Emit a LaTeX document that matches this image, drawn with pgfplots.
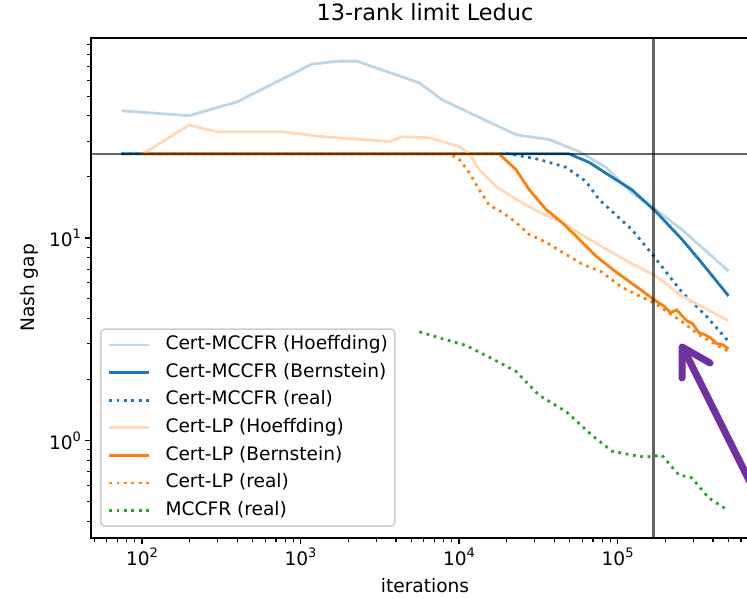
\documentclass[border=0pt]{standalone}
\usepackage{fontspec}
\setmainfont{DejaVu Sans}
\usepackage{pgfplots}
\pgfplotsset{compat=1.18}
\definecolor{tabblue}{RGB}{31,119,180}
\definecolor{taborange}{RGB}{255,127,14}
\definecolor{tabgreen}{RGB}{44,160,44}
\definecolor{lightblue}{RGB}{188,214,232}
\definecolor{lightorange}{RGB}{255,217,183}
\definecolor{arrowpurple}{RGB}{112,48,160}
\newcommand\supx[1]{\raisebox{0.42em}{\fontsize{13}{14}\selectfont #1}}
\begin{document}
\begin{tikzpicture}
\useasboundingbox (0,0) rectangle (747pt,599pt);
\begin{axis}[
  at={(91pt,61pt)}, anchor=south west,
  width=668pt, height=500pt, scale only axis,
  xmode=log, ymode=log, log basis x=10, log basis y=10,
  xmin=47.7, xmax=780000, ymin=0.33, ymax=97,
  axis line style={line width=1.5pt, black},
  tick align=outside, tick pos=left,
  major tick length=6.5pt, minor tick length=3.7pt,
  major tick style={line width=1.5pt, black},
  minor tick style={line width=1.1pt, black},
  xticklabel={10\supx{\pgfmathparse{int(round(\tick))}\pgfmathresult}},
  yticklabel={10\supx{\pgfmathparse{int(round(\tick))}\pgfmathresult}},
  ticklabel style={font=\fontsize{18.6}{20}\selectfont},
  title={13-rank limit Leduc},
  title style={at={(axis description cs:0.5,1)}, anchor=base, yshift=11pt, font=\fontsize{22.4}{26}\selectfont},
  xlabel={iterations},
  xlabel style={at={(axis description cs:0.5,0)}, anchor=base, yshift=-54pt, font=\fontsize{18.6}{20}\selectfont},
  ylabel={Nash gap},
  ylabel style={at={([xshift=-57pt]axis description cs:0,0.5)}, anchor=base, rotate=0, font=\fontsize{18.6}{20}\selectfont},
  legend cell align=left,
  legend image code/.code={\draw[#1] (0pt,0pt) -- (40pt,0pt);},
  legend style={at={(axis description cs:0.0135,0.022)}, anchor=south west,
    draw=black!20, line width=1.5pt, rounded corners=4pt, fill=white, fill opacity=0.8, text opacity=1,
    font=\fontsize{18.6}{20}\selectfont,
    inner xsep=7pt, inner ysep=6.9pt, row sep=10pt, column sep=15pt,
    nodes={inner sep=0pt, text height=13.6pt, text depth=4pt}},
  dotline/.style={dash pattern=on 2.8pt off 4.6pt, line cap=butt},
]
\addplot[lightblue, line width=2.8pt] coordinates {(74.2,42.4)(198,40.1)(397,46.9)(1178,72.1)(1766,74.6)(2259,74.6)(5623,58.2)(7852,48.0)(22900,32.3)(37000,30.6)(57100,26.7)(84500,22.3)(123000,16.7)(174000,13.8)(254000,11.0)(501000,6.86)};
\addlegendentry{Cert-MCCFR (Hoeffding)}
\addplot[tabblue, line width=2.8pt] coordinates {(74.2,26)(49400,26)(66100,23.6)(88200,20.4)(123000,17.3)(174000,13.5)(254000,9.86)(325000,7.85)(501000,5.17)};
\addlegendentry{Cert-MCCFR (Bernstein)}
\addplot[tabblue, line width=2.8pt, dotline] coordinates {(74.2,26)(20700,26)(32000,24.4)(47300,22.3)(63200,19.0)(76200,15.5)(123000,11.0)(169000,8.13)(254000,5.41)(362000,4.12)(501000,3.08)};
\addlegendentry{Cert-MCCFR (real)}
\addplot[lightorange, line width=2.8pt] coordinates {(102,26)(198,36.1)(298,33.4)(774,33.4)(1380,31.6)(3650,29.9)(4400,31.6)(6500,31.2)(7852,29.9)(10050,28.2)(11600,26.0)(13400,21.7)(17200,17.9)(22900,15.5)(32000,13.4)(44700,11.9)(65900,9.86)(118000,7.59)(174000,6.49)(254000,5.17)(501000,3.90)};
\addlegendentry{Cert-LP (Hoeffding)}
\addplot[taborange, line width=2.8pt] coordinates {(100,26)(17900,26)(22900,21.7)(27700,17.3)(35400,13.8)(44700,11.9)(57100,9.86)(73100,8.13)(97600,6.79)(113000,6.26)(174000,4.89)(195000,4.62)(216000,4.27)(236000,4.41)(273000,3.90)(298000,3.77)(325000,3.41)(354000,3.33)(386000,3.21)(421000,3.01)(459000,2.97)(501000,2.84)};
\addlegendentry{Cert-LP (Bernstein)}
\addplot[taborange, line width=2.8pt, dotline] coordinates {(100,26)(8690,26)(10050,24.4)(11600,21.0)(13400,17.3)(15500,14.5)(18700,13.4)(22900,11.9)(27700,10.4)(35400,9.51)(44700,8.51)(59700,7.43)(79500,6.79)(106000,5.71)(174000,4.72)(254000,3.87)(325000,3.33)(501000,2.75)};
\addlegendentry{Cert-LP (real)}
\addplot[tabgreen, line width=2.8pt, dotline] coordinates {(5623,3.44)(7852,3.18)(11100,2.94)(16200,2.53)(22900,2.19)(32000,1.67)(47300,1.39)(69000,1.06)(92000,0.886)(123000,0.847)(151000,0.828)(190000,0.847)(243000,0.677)(294000,0.653)(375000,0.521)(501000,0.450)};
\addlegendentry{MCCFR (real)}
\addplot[black, opacity=0.6, line width=2.5pt, forget plot] coordinates {(47.7,26)(780000,26)};
\addplot[black, opacity=0.6, line width=2.5pt, forget plot] coordinates {(168000,0.33)(168000,97)};
\end{axis}
\draw[arrowpurple, line width=7pt, line cap=round, line join=round] (682pt,221pt) -- (682pt,252pt) -- (710pt,236pt);
\draw[arrowpurple, line width=7pt, line cap=round] (684pt,249pt) -- (762pt,93pt);
\end{tikzpicture}
\end{document}
